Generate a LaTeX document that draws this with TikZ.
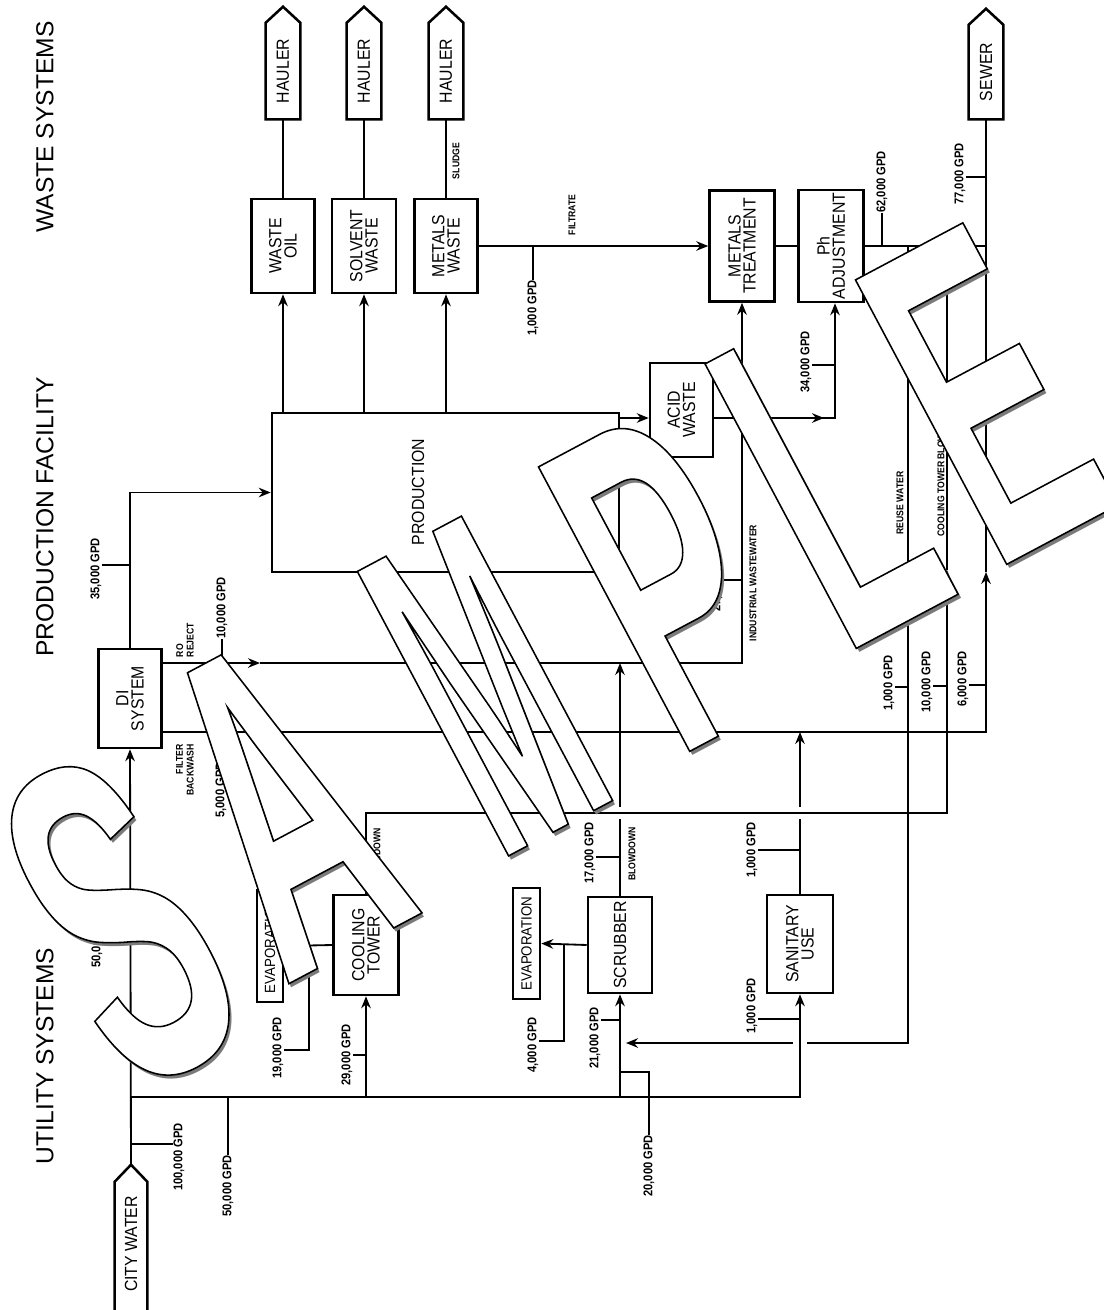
\documentclass[tikz,border=0pt]{standalone}
\usepackage{fontspec}
\usepackage{graphicx}
\usetikzlibrary{arrows.meta,calc}
\newfontfamily\cnd{Liberation Sans}[FakeStretch=0.9]
\newfontfamily\lblfont{Liberation Sans}[FakeStretch=0.88]
\newfontfamily\hdfont{Liberation Sans}
\newfontfamily\wmfont{Liberation Sans}[FakeStretch=0.48]
\newfontfamily\wmnarrow{Liberation Sans}[FakeStretch=0.36]
% upright text in the boxes, lines separated by \cr
\newcommand{\vt}[1]{\rotatebox{90}{\vbox{\baselineskip=10.8pt\halign{\hfil##\hfil\cr#1\crcr}}}}
\newcommand{\outl}[1]{\special{pdf:literal direct 1 1 1 rg 0 0 0 RG 2 Tr 1.1 w}#1\special{pdf:literal direct 0 Tr}}

\begin{document}
\begin{tikzpicture}[
    x=0.025cm, y=-0.025cm,
    box/.style={draw, line width=1.8pt, inner sep=0pt, font=\cnd\fontsize{12.5}{10.8}\selectfont},
    pent/.style={inner sep=0pt, font=\cnd\fontsize{12.5}{10.8}\selectfont},
    heading/.style={rotate=90, inner sep=0pt, font=\hdfont\fontsize{17.5}{20}\selectfont},
    gpd/.style={rotate=90, inner sep=0pt, font=\lblfont\bfseries\fontsize{9}{9}\selectfont},
    tag/.style={rotate=90, inner sep=0pt, font=\lblfont\bfseries\fontsize{7}{7.6}\selectfont},
    pipe/.style={line width=1.3pt},
    flow/.style={pipe, -{Stealth[length=3mm, width=2.4mm, inset=1mm]}},
    wm/.style={rotate=28, inner sep=0pt}
  ]
  \path[use as bounding box, fill=white] (0,0) rectangle (1104,1310);

  \node[heading] (hw) at (45,127) {WASTE SYSTEMS};
  \node[heading] (hp) at (45,517) {PRODUCTION FACILITY};
  \node[heading] (hu) at (45,1056) {UTILITY SYSTEMS};

  % waste systems
  \node[pent, minimum width=0.85cm, minimum height=2.4cm] (h1) at (283,71) {\vt{HAULER}};
  \node[pent, minimum width=0.85cm, minimum height=2.4cm] (h2) at (364,71) {\vt{HAULER}};
  \node[pent, minimum width=0.85cm, minimum height=2.4cm] (h3) at (446,71) {\vt{HAULER}};
  \node[pent, minimum width=0.85cm, minimum height=2.35cm] (sew) at (986,72) {\vt{SEWER}};
  \foreach \n in {h1,h2,h3,sew}
    \draw[line width=1.8pt] (\n.south west) -- (\n.north west) -- ($(\n.north)+(0,-16)$) -- (\n.north east) -- (\n.south east) -- cycle;

  \node[box, minimum width=1.575cm, minimum height=2.35cm] (oil) at (283,246) {\vt{WASTE\cr OIL}};
  \node[box, minimum width=1.6cm, minimum height=2.35cm] (solv) at (364,246) {\vt{SOLVENT\cr WASTE}};
  \node[box, minimum width=1.575cm, minimum height=2.35cm] (metw) at (446,246) {\vt{METALS\cr WASTE}};
  \node[box, minimum width=1.625cm, minimum height=2.775cm] (mett) at (742,246) {\vt{METALS\cr TREATMENT}};
  \node[box, minimum width=1.625cm, minimum height=2.8cm] (ph) at (831,246) {\vt{Ph\cr ADJUSTMENT}};
  \node[box, minimum width=1.575cm, minimum height=2.35cm] (acid) at (681.5,410) {\vt{ACID\cr WASTE}};
  \node[box, minimum width=8.675cm, minimum height=3.975cm] (prod) at (445.5,492.5) {};
  \node[pent] (prodtx) at (418,492) {\vt{PRODUCTION}};

  \draw[pipe] (oil.north) -- (h1.south);
  \draw[pipe] (solv.north) -- (h2.south);
  \draw[pipe] (metw.north) -- (h3.south);
  \foreach \n in {oil,solv,metw}
    \draw[flow] (\n.south |- prod.north) -- (\n.south);
  \node[tag] (sludge) at (456,161) {SLUDGE};

  \draw[flow] (metw.east) -- (mett.west);
  \draw[pipe] (mett.east) -- (ph.west);
  \node[tag] (filt) at (572,215) {FILTRATE};
  \node[gpd] (l1f) at (533,308) {1,000 GPD};
  \draw[pipe] (l1f.east |- metw.east) -- (l1f.east);
  \coordinate (sj) at (sew.south |- ph.east);
  \draw[pipe] (ph.east) -- (sj);
  \node[gpd] (l62) at (882,182) {62,000 GPD};
  \draw[pipe] (l62.west |- ph.east) -- (l62.west);
  \node[gpd] (l77) at (960,174) {77,000 GPD};
  \draw[pipe] (sew.south |- 0,177) -- (l77.south |- 0,177);

  % production
  \draw[flow] (prod.east |- 0,418) -- (acid.west |- 0,418);
  \coordinate (ac1) at (acid.east |- 0,418);
  \coordinate (phin) at ($(ph.south)+(4,0)$);
  \draw[pipe] (ac1) -- (738,418);
  \draw[flow] (746,418) -- (824,418);
  \draw[flow] (822,418) -| (phin);
  \node[gpd] (l34) at (806,362) {34,000 GPD};
  \draw[pipe] (phin |- 0,365) -- (l34.south |- 0,365);

  \node[box, minimum width=1.575cm, minimum height=2.475cm] (di) at (130,698.5) {\vt{DI\cr SYSTEM}};
  \draw[flow] (di.north) |- (prod.west);
  \node[gpd] (l35) at (96,569) {35,000 GPD};
  \draw[pipe] (di.north |- 0,565) -- (l35.south |- 0,565);

  \coordinate (ro0) at (di.east |- 0,663);
  \coordinate (roa) at (260,663);
  \coordinate (iw) at (mett.south |- 0,663);
  \draw[flow] (ro0) -- (roa);
  \draw[flow] (roa) -- (iw) -- (mett.south);
  \node[tag, align=left] (rotx) at (185,640) {RO\\REJECT};
  \node[gpd] (l10a) at (222,608) {10,000 GPD};
  \draw[pipe] (l10a.west |- ro0) -- (l10a.west);
  \node[tag] (iwtx) at (753,583) {INDUSTRIAL WASTEWATER};
  \node[gpd] (l27) at (717,581) {27,000 GPD};
  \draw[pipe] (iw |- 0,580) -- (l27.south |- 0,580);

  \coordinate (fb0) at (di.east |- 0,732);
  \coordinate (fb1) at (sew.south |- 0,732);
  \coordinate (fba) at (sew.south |- 0,572);
  \draw[flow] (fb0) -- (fb1) -- (fba);
  \draw[pipe] (fba) -- (sew.south);
  \node[tag, align=right] (fbtx) at (185,770) {FILTER\\BACKWASH};
  \node[gpd] (l5) at (221,790) {5,000 GPD};
  \draw[pipe] (l5.east |- fb0) -- (l5.east);
  \node[gpd] (l6) at (963,679) {6,000 GPD};
  \draw[pipe] (fb1 |- 0,685) -- (l6.south |- 0,685);

  % utility systems
  \node[pent, minimum width=0.8cm, minimum height=3.1cm] (cw) at (131,1244) {\vt{CITY WATER}};
  \coordinate (cwtip) at ($(cw.north)+(0,-17)$);
  \draw[line width=1.8pt] ($(cw.south west)+(0,20)$) -- (cw.north west) -- (cwtip) -- (cw.north east) -- ($(cw.south east)+(0,20)$);
  \draw[flow] (cwtip) -- (di.south);
  \node[gpd] (l100) at (179,1157) {100,000 GPD};
  \draw[pipe] (cwtip |- 0,1144) -- (l100.north |- 0,1144);
  \node[gpd] (l50a) at (97,937) {50,000 GPD};
  \draw[pipe] (cwtip |- 0,942) -- (l50a.south |- 0,942);

  \node[box, minimum width=1.625cm, minimum height=2.5cm] (cool) at (366,945) {\vt{COOLING\cr TOWER}};
  \node[box, minimum width=1.6cm, minimum height=2.4cm] (scrub) at (620,945) {\vt{SCRUBBER}};
  \node[box, minimum width=1.65cm, minimum height=2.45cm] (sani) at (800,944) {\vt{SANITARY\cr USE}};
  \node[box, font=\cnd\fontsize{10.5}{10}\selectfont, minimum width=0.65cm, minimum height=2.8cm] (evap1) at (270,946) {\vt{EVAPORATION}};
  \node[box, font=\cnd\fontsize{10.5}{10}\selectfont, minimum width=0.675cm, minimum height=2.775cm] (evap2) at (526.5,943.5) {\vt{EVAPORATION}};

  \coordinate (jb) at (cwtip |- 0,1097);
  \draw[flow] (jb) -| (sani.south);
  \node[gpd] (l50b) at (228,1186) {50,000 GPD};
  \draw[pipe] (l50b.east |- jb) -- (l50b.east);
  \draw[flow] (cool.south |- jb) -- (cool.south);
  \node[gpd] (l29) at (347,1055) {29,000 GPD};
  \draw[pipe] (cool.south |- 0,1055) -- (l29.south |- 0,1055);
  \draw[flow] (scrub.south |- jb) -- (scrub.south);
  \node[gpd] (l21) at (595,1038) {21,000 GPD};
  \draw[pipe] (scrub.south |- 0,1020) -- (l21.south |- 0,1020);
  \node[gpd] (l20) at (649,1166) {20,000 GPD};
  \draw[pipe] (scrub.south |- 0,1072) -| (l20.east);
  \node[gpd] (l1s) at (752,1006) {1,000 GPD};
  \draw[pipe] (sani.south |- 0,1019) -- (l1s.south |- 0,1019);

  \draw[flow] (cool.west) -- (evap1.east);
  \node[gpd] (l19) at (278,1048) {19,000 GPD};
  \draw[pipe] (309,945) |- (l19.south |- 0,1050);
  \coordinate (cb1) at (cool.north |- 0,813);
  \coordinate (cb2) at (947,813);
  \coordinate (cba) at (947,570);
  \draw[flow] (cool.north) -- (cb1) -- (cb2) -- (cba);
  \draw[pipe] (cba) -- (cba |- ph.east);
  \node[tag] (cbtx) at (377,855) {BLOWDOWN};
  \node[tag] (cttx) at (941,471) {COOLING TOWER BLOWDOWN};
  \node[gpd] (l10b) at (927,682) {10,000 GPD};
  \draw[pipe] (cb2 |- 0,686) -- (l10b.south |- 0,686);

  \draw[flow] (scrub.west) -- (evap2.east);
  \node[gpd] (l4) at (533,1045) {4,000 GPD};
  \draw[pipe] (564,945) |- (l4.south |- 0,1041);
  \draw[pipe] (scrub.north) -- (scrub.north |- 0,819);
  \draw[flow] (scrub.north |- 0,807) -- (scrub.north |- ro0);
  \node[tag] (sbtx) at (632,854) {BLOWDOWN};
  \node[gpd] (l17) at (590,853) {17,000 GPD};
  \draw[pipe] (scrub.north |- 0,857) -- (l17.south |- 0,857);

  \draw[pipe] (sani.north) -- (sani.north |- 0,819);
  \draw[flow] (sani.north |- 0,807) -- (sani.north |- fb0);
  \node[gpd] (l1o) at (752,850) {1,000 GPD};
  \draw[pipe] (sani.north |- 0,850) -- (l1o.south |- 0,850);

  \coordinate (rw0) at (908,246);
  \coordinate (rw1) at (908,1043);
  \draw[pipe] (rw0) -- (rw1) -- ($(sani.south |- rw1)+(7,0)$);
  \draw[flow] ($(sani.south |- rw1)+(-7,0)$) -- ($(scrub.south |- rw1)+(6,0)$);
  \node[tag] (rwtx) at (900,503) {REUSE WATER};
  \node[gpd] (l1r) at (889,683) {1,000 GPD};
  \draw[pipe] (rw0 |- 0,687) -- (l1r.south |- 0,687);

  % watermark
  \foreach \ch/\x/\y/\f in {S/119/921/\wmfont, A/280/806/\wmfont, M/485/686/\wmnarrow, P/667/581/\wmfont, L/828/481/\wmfont, E/984/394/\wmfont} {
    \node[wm, font=\f\bfseries\fontsize{333}{333}\selectfont, text=black!52] (wms\ch) at (\x+3,\y+4) {\ch};
    \node[wm, font=\f\bfseries\fontsize{333}{333}\selectfont, text=white] (wm\ch) at (\x,\y) {\outl{\ch}};
  }
\end{tikzpicture}
\end{document}
